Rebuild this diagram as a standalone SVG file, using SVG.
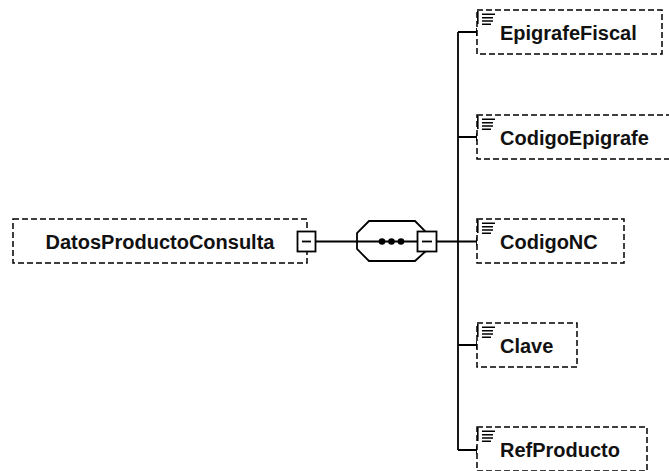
<svg xmlns="http://www.w3.org/2000/svg" width="669" height="471" viewBox="0 0 669 471">
<style>
.box{fill:#fff;stroke:#000;stroke-width:1.5;stroke-dasharray:6 3}
.ln{fill:none;stroke:#000;stroke-width:1.8}
.sq{fill:#fff;stroke:#000;stroke-width:1.8}
.ic{stroke:#000;stroke-width:1.6}
text{font-family:"Liberation Sans",Arial,sans-serif;font-weight:bold;font-size:20px;fill:#111}
</style>
<defs>
<g id="icon">
<path class="ic" d="M0.8,0 V13 M5,3.3 H18 M5,6.7 H16 M5,10 H16 M5,13.3 H14" fill="none"/>
</g>
</defs>
<g id="connectors">
<path class="ln" d="M316,241.5 H357"/>
<path class="ln" d="M437,241.5 H458 M458,32 V450 M458,32 H477 M458,137 H477 M458,241.5 H477 M458,345 H477 M458,450 H477"/>
<path class="ln" d="M477,28 V36 M477,133 V141 M477,237.5 V245.5 M477,341 V349 M477,446 V454"/>
</g>
<g id="DatosProductoConsulta">
<rect class="box" x="13" y="219" width="294" height="44"/>
<text x="160" y="248.5" text-anchor="middle">DatosProductoConsulta</text>
<rect class="sq" x="297.5" y="231.5" width="18" height="20"/>
<path class="ln" d="M302,241.5 H311"/>
</g>
<g id="sequence">
<polygon class="sq" points="369,221 415,221 427,233 427,250 415,261 369,261 357,249 357,233"/>
<path class="ln" d="M357,241.5 H417"/>
<circle cx="382" cy="241.5" r="3.3"/>
<circle cx="391.5" cy="241.5" r="3.3"/>
<circle cx="401" cy="241.5" r="3.3"/>
<rect class="sq" x="417.5" y="231.5" width="19" height="20"/>
<path class="ln" d="M422,241.5 H432"/>
</g>
<g id="EpigrafeFiscal">
<rect class="box" x="477" y="10" width="185" height="44"/>
<use href="#icon" x="477" y="11"/>
<text x="500" y="39.5">EpigrafeFiscal</text>
</g>
<g id="CodigoEpigrafe">
<rect class="box" x="477" y="115" width="196" height="44"/>
<use href="#icon" x="477" y="116"/>
<text x="500" y="144.5">CodigoEpigrafe</text>
</g>
<g id="CodigoNC">
<rect class="box" x="477" y="219" width="147" height="44"/>
<use href="#icon" x="477" y="220"/>
<text x="500" y="248.5">CodigoNC</text>
</g>
<g id="Clave">
<rect class="box" x="477" y="323" width="100" height="44"/>
<use href="#icon" x="477" y="324"/>
<text x="500" y="352.5">Clave</text>
</g>
<g id="RefProducto">
<rect class="box" x="477" y="427" width="170" height="44"/>
<use href="#icon" x="477" y="428"/>
<text x="500" y="456.5">RefProducto</text>
</g>
</svg>
